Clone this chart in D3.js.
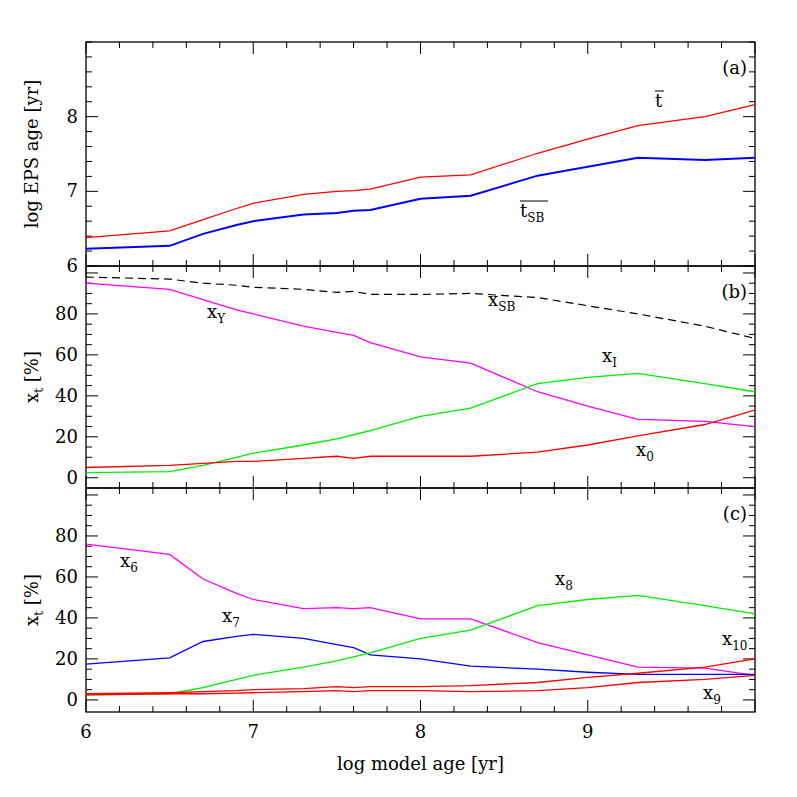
<!DOCTYPE html><html><head><meta charset="utf-8">
<script src="https://cdn.jsdelivr.net/npm/d3@7"></script>
<style>body{margin:0;background:#fff}text{font-family:"DejaVu Serif",serif}</style></head><body>
<svg id="c" width="797" height="797"></svg>
<script>
const ages=[6,6.5,6.7,6.9,7.0,7.3,7.5,7.6,7.7,8.0,8.3,8.7,9.0,9.3,9.7,10];
const tbar=[6.38,6.47,6.62,6.77,6.84,6.96,7.0,7.01,7.03,7.19,7.22,7.51,7.7,7.88,8.0,8.16];
const tsb=[6.23,6.27,6.43,6.55,6.6,6.69,6.71,6.74,6.75,6.9,6.94,7.21,7.33,7.45,7.42,7.45];
const xSB=[98,97,95,94,93,92,90.5,91,89.5,89.5,90,88,84,80,74,68];
const xY=[95,92,87,82,80,74,71,69.5,66,59,56,42,35,28.5,27.5,25];
const xI=[2.5,3,6,10,12,16,19,21,23,30,34,46,49,51,46,42];
const x0=[5,6,7,8,8,9.5,10.5,9.5,10.5,10.5,10.5,12.5,16,20.5,26,33];
const x6=[76,71,59,52,49,44.5,45,44.5,45,39.5,39.5,28,22,16,15.5,12];
const x7=[17.5,20.5,28.5,31,32,30,27,25.5,22,20,16.5,15,13.5,12.5,12.5,12.5];
const x8=[2.5,3,6,10,12,16,19,21,23,30,34,46,49,51,46,42];
const x10=[3,3.5,4,4.5,5,5.5,6.5,6,6.5,6.5,7,8.5,11,13,16,20];
const x9=[2.5,3,3,3.3,3.5,4,4.5,4,4.5,4.5,4,4.5,6,8.5,10,12];
const xTicks=[6,7,8,9];

const svg=d3.select("#c");
const L=86,R=755;
const x=d3.scaleLinear().domain([6,10]).range([L,R]);
const panels=[
 {top:42,bot:266,dom:[6,9],ticks:[6,7,8],minor:d3.range(6,9.01,0.2),lab:"(a)",ylab:"log EPS age [yr]"},
 {top:266,bot:488,dom:[-5,103.4],ticks:[0,20,40,60,80],minor:d3.range(0,101,5),lab:"(b)",ylab:"x"},
 {top:488,bot:712,dom:[-5.9,103.4],ticks:[0,20,40,60,80],minor:d3.range(0,101,5),lab:"(c)",ylab:"x"}
];
const line=(y,vals)=>d3.line().x((d,i)=>x(ages[i])).y(d=>y(d))(vals);
panels.forEach((p,k)=>{
 const y=d3.scaleLinear().domain(p.dom).range([p.bot,p.top]);
 p.y=y;
 const g=svg.append("g");
 g.append("rect").attr("x",L).attr("y",p.top).attr("width",R-L).attr("height",p.bot-p.top).attr("fill","none").attr("stroke","#000").attr("stroke-width",1.3);
 const xm=d3.range(6,10.01,0.2);
 xm.forEach(v=>{const big=Math.abs(v-Math.round(v))<1e-6;const len=big?12:6;
  g.append("line").attr("x1",x(v)).attr("x2",x(v)).attr("y1",p.bot).attr("y2",p.bot-len).attr("stroke","#000");
  g.append("line").attr("x1",x(v)).attr("x2",x(v)).attr("y1",p.top).attr("y2",p.top+len).attr("stroke","#000");});
 p.minor.forEach(v=>{if(y(v)<p.top-0.5||y(v)>p.bot+0.5)return;const big=p.ticks.some(t=>Math.abs(t-v)<1e-6)||(k>0&&Math.abs(v%20)<1e-6);const len=big?12:6;
  g.append("line").attr("x1",L).attr("x2",L+len).attr("y1",y(v)).attr("y2",y(v)).attr("stroke","#000");
  g.append("line").attr("x1",R).attr("x2",R-len).attr("y1",y(v)).attr("y2",y(v)).attr("stroke","#000");});
 p.ticks.forEach(t=>g.append("text").attr("x",L-8).attr("y",y(t)+6).attr("text-anchor","end").attr("font-size",18).text(t));
 g.append("text").attr("x",R-8).attr("y",p.top+32).attr("text-anchor","end").attr("font-size",18).text(p.lab);
 const cy=(p.top+p.bot)/2;
 const yl=g.append("text").attr("transform",`translate(38,${cy}) rotate(-90)`).attr("text-anchor","middle").attr("font-size",18);
 if(k==0) yl.text(p.ylab); else {yl.append("tspan").text("x");yl.append("tspan").attr("font-size",12).attr("dy",5).text("t");yl.append("tspan").attr("dy",-5).text(" [%]");}
});
const pa=panels[0],pb=panels[1],pc=panels[2];
function draw(p,vals,col,w,dash){svg.append("path").attr("d",line(p.y,vals)).attr("fill","none").attr("stroke",col).attr("stroke-width",w).attr("stroke-dasharray",dash||null);}
draw(pa,tbar,"#ff0000",1.3);draw(pa,tsb,"#0000ff",2);
draw(pb,xSB,"#000",1.2,"8,5");draw(pb,xY,"#ff00ff",1.3);draw(pb,xI,"#00ee00",1.3);draw(pb,x0,"#ff0000",1.3);
draw(pc,x6,"#ff00ff",1.3);draw(pc,x7,"#0000ff",1.3);draw(pc,x8,"#00ee00",1.3);draw(pc,x10,"#ff0000",1.3);draw(pc,x9,"#ff0000",1.3);
xTicks.forEach(t=>svg.append("text").attr("x",x(t)).attr("y",738).attr("text-anchor","middle").attr("font-size",18).text(t));
svg.append("text").attr("x",(L+R)/2).attr("y",770).attr("text-anchor","middle").attr("font-size",18).text("log model age [yr]");
function lab(px,py,main,sub,over){const t=svg.append("text").attr("x",px).attr("y",py).attr("font-size",18);
 t.append("tspan").text(main); if(sub) t.append("tspan").attr("font-size",12).attr("dy",5).text(sub);
 if(over) svg.append("line").attr("x1",px).attr("x2",px+over).attr("y1",py-16).attr("y2",py-16).attr("stroke","#000");}
lab(655,107,"t","",9);
lab(520,217,"t","SB",28);
lab(488,306,"x","SB");
lab(207,318,"x","Y");
lab(602,362,"x","I");
lab(636,456,"x","0");
lab(120,567,"x","6");
lab(222,622,"x","7");
lab(555,585,"x","8");
lab(703,699,"x","9");
lab(722,645,"x","10");
</script></body></html>
